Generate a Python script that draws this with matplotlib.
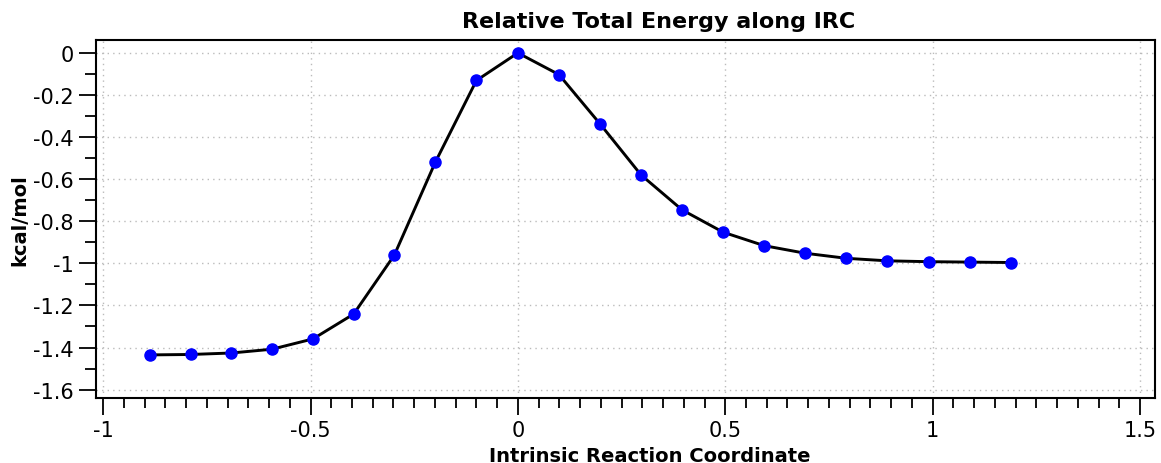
import matplotlib.pyplot as plt
from matplotlib.ticker import MultipleLocator, FuncFormatter

# IRC coordinate and relative energy (kcal/mol)
irc = [-0.887, -0.789, -0.691, -0.593, -0.494, -0.396, -0.298, -0.199, -0.100, 0.0,
       0.099, 0.198, 0.297, 0.396, 0.495, 0.594, 0.693, 0.792, 0.891, 0.990, 1.089, 1.188]
energy = [-1.435, -1.433, -1.426, -1.408, -1.359, -1.241, -0.961, -0.519, -0.131, 0.0,
          -0.103, -0.337, -0.580, -0.746, -0.852, -0.916, -0.952, -0.976, -0.988, -0.992,
          -0.994, -0.996]

title = 'Relative Total Energy along IRC'
xlabel = 'Intrinsic Reaction Coordinate'
ylabel = 'kcal/mol'


def fmt(v, pos):
    s = '%g' % round(v, 3)
    return '0' if s == '-0' else s


fig = plt.figure(figsize=(11.61, 4.64), dpi=100)
ax = fig.add_axes([0.0824, 0.140, 0.9124, 0.771])

ax.plot(irc, energy, color='black', linewidth=2.1, zorder=3)
ax.plot(irc, energy, linestyle='none', marker='o', markersize=8,
        color='#0000ff', zorder=4)

ax.set_xlim(-1.018, 1.536)
ax.set_ylim(-1.64, 0.06)

ax.xaxis.set_major_locator(MultipleLocator(0.5))
ax.xaxis.set_minor_locator(MultipleLocator(0.05))
ax.yaxis.set_major_locator(MultipleLocator(0.2))
ax.yaxis.set_minor_locator(MultipleLocator(0.1))
ax.xaxis.set_major_formatter(FuncFormatter(fmt))
ax.yaxis.set_major_formatter(FuncFormatter(fmt))

ax.tick_params(which='major', direction='out', length=12, width=1.3,
               labelsize=15, top=False, right=False, pad=4)
ax.tick_params(which='minor', direction='out', length=7, width=1.3,
               top=False, right=False)
ax.tick_params(axis='y', which='minor', length=8)
ax.tick_params(axis='x', which='major', pad=4)

for sp in ax.spines.values():
    sp.set_linewidth(1.5)

ax.grid(True, which='major', linestyle=(0, (1, 3)), color='#bbbbbb', linewidth=1.0)

fig.text(659 / 1161, 1 - 22 / 464, title, ha='center', va='center',
         fontsize=16, fontweight='bold')
fig.text(650 / 1161, 1 - 447 / 464, xlabel, ha='center', va='top',
         fontsize=14, fontweight='bold')
fig.text(20 / 1161, 1 - 220 / 464, ylabel, ha='center', va='center',
         rotation=90, fontsize=14, fontweight='bold')

fig.savefig('out.png', dpi=100)
